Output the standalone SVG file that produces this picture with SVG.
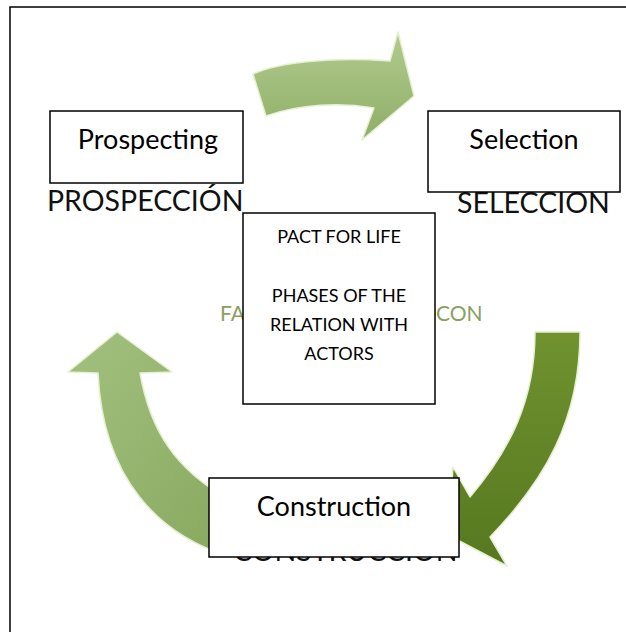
<svg xmlns="http://www.w3.org/2000/svg" width="626" height="632" viewBox="0 0 626 632">
<style>
.box{fill:#fff;stroke:#000;stroke-width:1.5}
.lbl{font-family:Lato,"Open Sans","Liberation Sans",sans-serif;fill:#000;text-anchor:middle}
.big{font-family:Lato,"Open Sans","Liberation Sans",sans-serif;fill:#111;font-size:28.5px}
.grn{font-family:Lato,"Open Sans","Liberation Sans",sans-serif;fill:#8aa05f;font-size:21px}
.arr{stroke:#e4f0cf;stroke-width:1.5;stroke-linejoin:round}
</style>
<defs>
<linearGradient id="gTop" x1="0" y1="0" x2="0" y2="1">
<stop offset="0" stop-color="#b2cb8e"/><stop offset="1" stop-color="#8fae67"/>
</linearGradient>
<linearGradient id="gLeft" x1="0" y1="0" x2="1" y2="1">
<stop offset="0" stop-color="#a3c17f"/><stop offset="1" stop-color="#88a85f"/>
</linearGradient>
<linearGradient id="gRight" x1="0" y1="0" x2="0" y2="1">
<stop offset="0" stop-color="#71922f"/><stop offset="1" stop-color="#56781f"/>
</linearGradient>
</defs>
<rect width="626" height="632" fill="#fff"/>
<path d="M10,632 V7 H626" fill="none" stroke="#000" stroke-width="1.5"/>
<g id="connectors">
<path class="arr" fill="url(#gTop)" d="M253,74 C280,62 330,57 390,61 L398,32 L414,96 L362,140 L374,108 C340,102 300,104 266,116 Z"/>
<path class="arr" fill="url(#gRight)" d="M535,332 L580,332 C580,420 545,480 490,537 L507,566 L448,535 L453,467 L470,497 C510,450 535,400 535,332 Z"/>
<path class="arr" fill="url(#gLeft)" d="M117,332 L172,372 L140,373 C150,430 175,470 230,500 L228,556 C160,535 103,480 98,373 L68,372 Z"/>
</g>
<text class="big" x="47" y="211">PROSPECCIÓN</text>
<text class="big" x="457" y="213">SELECCION</text>
<text class="big" x="233" y="561">CONSTRUCCIÓN</text>
<text class="grn" x="220" y="321">FA</text>
<text class="grn" x="436" y="321">CON</text>
<g id="prospecting">
<rect class="box" x="50" y="111" width="193" height="72"/>
<text class="lbl" x="148" y="149" font-size="27">Prospecting</text>
</g>
<g id="selection">
<rect class="box" x="428" y="111" width="192" height="81"/>
<text class="lbl" x="524" y="149" font-size="27">Selection</text>
</g>
<g id="center">
<rect class="box" x="243" y="213" width="192" height="191"/>
<text class="lbl" x="339" y="243" font-size="18">PACT FOR LIFE</text>
<text class="lbl" x="339" y="302" font-size="18">PHASES OF THE</text>
<text class="lbl" x="339" y="331" font-size="18">RELATION WITH</text>
<text class="lbl" x="339" y="360" font-size="18">ACTORS</text>
</g>
<g id="construction">
<rect class="box" x="209" y="478" width="250" height="79"/>
<text class="lbl" x="334" y="516" font-size="27">Construction</text>
</g>
</svg>
